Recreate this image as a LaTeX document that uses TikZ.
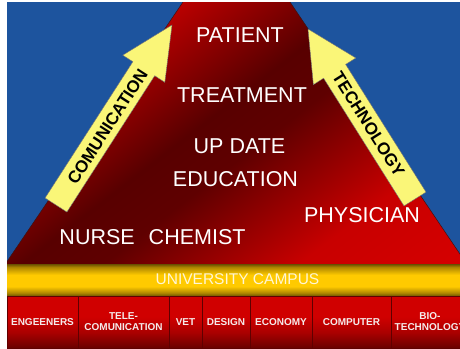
\documentclass[tikz,border=0pt]{standalone}
\usepackage{fontspec}
\setmainfont{Liberation Sans}
\definecolor{bgblue}{RGB}{29,84,158}
\definecolor{triA}{RGB}{185,0,0}
\definecolor{triB}{RGB}{88,0,0}
\definecolor{triC}{RGB}{95,0,0}
\definecolor{triD}{RGB}{200,0,0}
\definecolor{triE}{RGB}{215,0,0}
\definecolor{edgeline}{RGB}{60,20,20}
\definecolor{arrowyel}{RGB}{250,246,120}
\definecolor{goldT}{RGB}{105,80,0}
\definecolor{goldT2}{RGB}{175,135,0}
\definecolor{goldM}{RGB}{255,202,0}
\definecolor{goldB2}{RGB}{175,135,0}
\definecolor{goldB}{RGB}{110,85,0}
\definecolor{cellT}{RGB}{208,0,0}
\definecolor{cellM}{RGB}{170,0,0}
\definecolor{cellB}{RGB}{105,0,0}
\definecolor{cellLine}{RGB}{95,0,0}
\definecolor{celltxt}{RGB}{245,235,235}
\definecolor{campustxt}{RGB}{255,246,214}
\pgfdeclareverticalshading{trishade}{100bp}{color(0bp)=(triE); color(25bp)=(triE); color(38.75bp)=(triD); color(53.75bp)=(triC); color(60bp)=(triB); color(73.5bp)=(triA); color(75bp)=(triA); color(100bp)=(triA)}
\pgfdeclareverticalshading{goldshade}{100bp}{color(0bp)=(goldB); color(25bp)=(goldB); color(30bp)=(goldB2); color(40bp)=(goldM); color(58bp)=(goldM); color(70bp)=(goldT2); color(75bp)=(goldT); color(100bp)=(goldT)}
\pgfdeclareverticalshading{cellshade}{100bp}{color(0bp)=(cellB); color(25bp)=(cellB); color(40bp)=(cellM); color(55bp)=(cellT); color(75bp)=(cellT); color(100bp)=(cellT)}
\begin{document}
\begin{tikzpicture}[x=1pt,y=-1pt,
  maintext/.style={text=white, inner sep=0pt, font=\fontsize{21.5}{24}\selectfont},
  arrowtext/.style={text=black, inner sep=0pt, font=\fontsize{17}{19}\selectfont\bfseries},
  arrowshape/.style={fill=arrowyel, draw=black!55, line width=0.4pt, line join=miter},
  cellbox/.style={shading=cellshade, draw=cellLine, line width=0.6pt, minimum height=52pt, inner sep=0pt, text=celltxt, align=center, font=\fontsize{10}{11}\selectfont\bfseries}]
\useasboundingbox (0,0) rectangle (460,348);
\fill[white] (0,0) rectangle (460,348);
\begin{scope}
\clip (7,2) rectangle (460,348);
% blue background
\fill[bgblue] (7,2) rectangle (460,264);
% red triangle
\begin{scope}
\clip (183,2) -- (290,2) -- (468,266) -- (4,266) -- cycle;
\begin{scope}[transform canvas={rotate around={37.6:(195,155)}}]
\shade[shading=trishade] (-105,15) rectangle (495,415);
\end{scope}
\end{scope}
\draw[edgeline, line width=0.5pt] (183,2) -- (4,266);
\draw[edgeline, line width=0.5pt] (290,2) -- (468,266);
% arrows
\draw[arrowshape] (45.1,198.0) -- (132.9,61.7) -- (122.8,55.2) -- (172,25) -- (164.8,82.3) -- (154.7,75.7) -- (66.9,212.0) -- cycle;
\draw[arrowshape] (308,29) -- (355.8,58.0) -- (345.6,64.4) -- (426.0,192.1) -- (404.0,205.9) -- (323.6,78.2) -- (313.4,84.6) -- cycle;
\node[arrowtext, rotate=57.2] (comm) at (107.5,126.5) {COMUNICATION};
\node[arrowtext, rotate=-57.8] (tech) at (368.6,124.4) {TECHNOLOGY};
% gold bar
\shade[shading=goldshade] (7,264) rectangle (460,296);
\node[inner sep=0pt, text=campustxt, font=\fontsize{15.5}{18}\selectfont] (campus) at (237.5,279.5) {UNIVERSITY CAMPUS};
% cells
\node[cellbox, minimum width=71pt] (c1) at (42.5,322) {ENGEENERS};
\node[cellbox, minimum width=91pt] (c2) at (123.5,322) {TELE-\\COMUNICATION};
\node[cellbox, minimum width=33pt] (c3) at (185.5,322) {VET};
\node[cellbox, minimum width=48pt] (c4) at (226,322) {DESIGN};
\node[cellbox, minimum width=62pt] (c5) at (281,322) {ECONOMY};
\node[cellbox, minimum width=79pt] (c6) at (351.5,322) {COMPUTER};
\node[cellbox, minimum width=78pt] (c7) at (430,322) {BIO-\\TECHNOLOGY};
\end{scope}
% triangle texts
\node[maintext] (patient) at (240,35) {PATIENT};
\node[maintext] (treat) at (242,95) {TREATMENT};
\node[maintext] (update) at (239.5,146) {UP DATE};
\node[maintext] (educ) at (235.5,179.5) {EDUCATION};
\node[maintext] (phys) at (362,215) {PHYSICIAN};
\node[maintext] (nurse) at (152.5,237.5) {NURSE\hspace{14pt}CHEMIST};
\end{tikzpicture}
\end{document}
